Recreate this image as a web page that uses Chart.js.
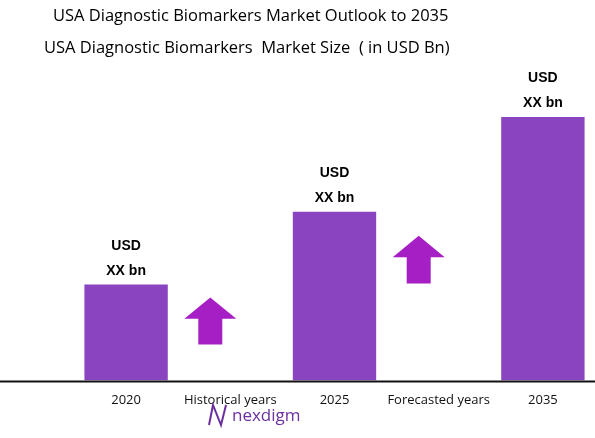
<!DOCTYPE html>
<html><head><meta charset="utf-8">
<script src="https://cdn.jsdelivr.net/npm/chart.js@4"></script>
<style>body{margin:0;background:#fff}#wrap{width:595px;height:438px;position:relative}</style>
</head><body><div id="wrap"><canvas id="c"></canvas></div>
<script>
const categories = ['2020', 'Historical years', '2025', 'Forecasted years', '2035'];
const marketSize = [9.6, null, 16.9, null, 26.4];
const arrowFrom = [null, 3.6, null, 9.7, null];
const arrowTo = [null, 8.3, null, 14.5, null];
const barLabel = ['USD', 'XX bn'];

const decor = {
  id: 'decor',
  afterDatasetsDraw(chart) {
    const { ctx, scales: { x, y }, chartArea } = chart;
    ctx.save();
    // arrows
    ctx.fillStyle = '#a61fc4';
    categories.forEach((c, i) => {
      if (arrowFrom[i] == null) return;
      const cx = x.getPixelForValue(i) - 20, b = y.getPixelForValue(arrowFrom[i]), t = y.getPixelForValue(arrowTo[i]);
      const h = b - t;
      ctx.beginPath();
      ctx.moveTo(cx, t);
      ctx.lineTo(cx + 26, t + h * 0.45);
      ctx.lineTo(cx + 12, t + h * 0.45);
      ctx.lineTo(cx + 12, b);
      ctx.lineTo(cx - 12, b);
      ctx.lineTo(cx - 12, t + h * 0.45);
      ctx.lineTo(cx - 26, t + h * 0.45);
      ctx.closePath();
      ctx.fill();
    });
    // value labels
    ctx.fillStyle = '#000';
    ctx.font = 'bold 14px "Liberation Sans", Arial';
    ctx.textAlign = 'center';
    const meta = chart.getDatasetMeta(0);
    meta.data.forEach((bar, i) => {
      if (marketSize[i] == null) return;
      ctx.fillText(barLabel[0], bar.x, bar.y - 35);
      ctx.fillText(barLabel[1], bar.x, bar.y - 10);
    });
    // baseline
    ctx.strokeStyle = '#111';
    ctx.lineWidth = 2;
    ctx.beginPath();
    ctx.moveTo(0, chartArea.bottom + 1);
    ctx.lineTo(595, chartArea.bottom + 1);
    ctx.stroke();
    // titles
    ctx.textAlign = 'left';
    ctx.font = '16.5px "Open Sans", sans-serif';
    ctx.fillText('USA Diagnostic Biomarkers Market Outlook to 2035', 53, 21);
    ctx.fillText('USA Diagnostic Biomarkers  Market Size  ( in USD Bn)', 44, 53);
    // logo
    ctx.fillStyle = '#6b2fa0';
    ctx.font = '17px "Open Sans", sans-serif';
    ctx.fillText('nexdigm', 232, 421);
    ctx.strokeStyle = '#6b2fa0';
    ctx.lineWidth = 2;
    ctx.beginPath();
    ctx.moveTo(209, 425); ctx.lineTo(213, 405); ctx.lineTo(221, 425); ctx.lineTo(226, 405);
    ctx.stroke();
    ctx.restore();
  }
};

new Chart(document.getElementById('c'), {
  type: 'bar',
  data: {
    labels: categories,
    datasets: [{ data: marketSize, backgroundColor: '#8a44c0', barPercentage: 0.8, categoryPercentage: 1 }]
  },
  options: {
    responsive: true, maintainAspectRatio: false, animation: false,
    layout: { padding: { left: 74, right: 0, top: 60, bottom: 26 } },
    plugins: { legend: { display: false }, tooltip: { enabled: false } },
    scales: {
      x: {
        grid: { display: false }, border: { display: false },
        ticks: { color: '#111', maxRotation: 0, minRotation: 0, autoSkip: false, font: { size: 13, family: '"Open Sans", sans-serif' }, padding: 4 }
      },
      y: { display: false, min: 0, max: 32.1 }
    }
  },
  plugins: [decor]
});
</script></body></html>
